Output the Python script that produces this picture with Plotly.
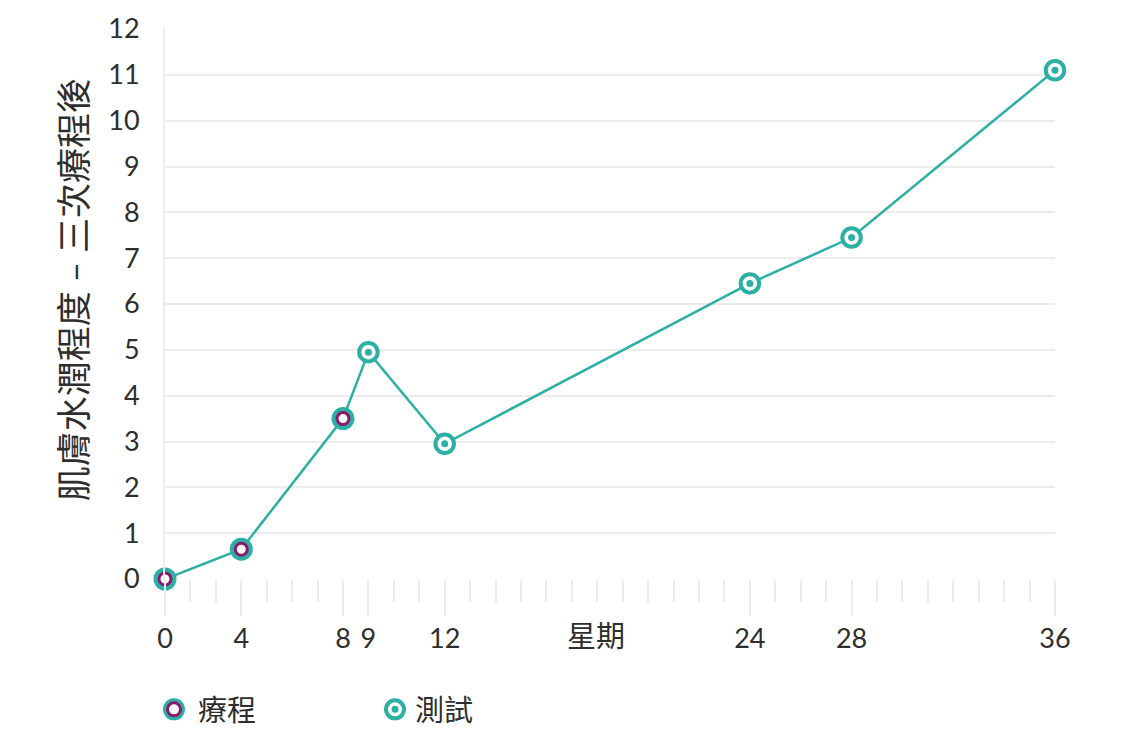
import plotly.graph_objects as go

# weeks since start and skin hydration score
weeks = [0, 4, 8, 9, 12, 24, 28, 36]
hydration = [0, 0.65, 3.5, 4.95, 2.95, 6.45, 7.45, 11.1]
kind = ["療程", "療程", "療程", "測試", "測試", "測試", "測試", "測試"]

tick_weeks = [0, 4, 8, 9, 12, 24, 28, 36]
y_ticks = list(range(0, 13))

TEAL = "#2bb0a3"
PURPLE = "#8c1a6c"
GRID = "#ececec"
TEXT = "#2e2e2e"
FONT = "Lato, Noto Sans CJK TC, sans-serif"

# the source chart draws week 0 in the week-1 slot of the axis
x_pos = [max(w, 1) for w in weeks]
tick_pos = [max(w, 1) for w in tick_weeks]

treat_x = [x for x, k in zip(x_pos, kind) if k == "療程"]
treat_y = [y for y, k in zip(hydration, kind) if k == "療程"]
test_x = [x for x, k in zip(x_pos, kind) if k == "測試"]
test_y = [y for y, k in zip(hydration, kind) if k == "測試"]

fig = go.Figure()

fig.add_trace(go.Scatter(
    x=x_pos, y=hydration, mode="lines",
    line=dict(color=TEAL, width=2.5), showlegend=False, hoverinfo="skip",
    cliponaxis=False,
))

# treatment markers: teal ring / purple ring / white centre
fig.add_trace(go.Scatter(
    x=treat_x, y=treat_y, mode="markers", showlegend=False, cliponaxis=False,
    marker=dict(size=23, color=TEAL, line=dict(width=0)),
))
fig.add_trace(go.Scatter(
    x=treat_x, y=treat_y, mode="markers", name="療程", showlegend=False, cliponaxis=False,
    marker=dict(size=12, color="white", line=dict(width=3, color=PURPLE)),
))

# test markers: teal ring / white gap / teal dot
fig.add_trace(go.Scatter(
    x=test_x, y=test_y, mode="markers", name="測試", showlegend=False, cliponaxis=False,
    marker=dict(size=18.5, color="white", line=dict(width=4, color=TEAL)),
))
fig.add_trace(go.Scatter(
    x=test_x, y=test_y, mode="markers", showlegend=False, cliponaxis=False,
    marker=dict(size=7, color=TEAL, line=dict(width=0)),
))

# hand-drawn legend (pixel sized symbols)
leg_y = -0.237
legend_shapes = [
    dict(type="circle", xref="paper", yref="paper", xsizemode="pixel", ysizemode="pixel",
         xanchor=0.0101, yanchor=leg_y, x0=-11, x1=11, y0=-11, y1=11,
         fillcolor=TEAL, line=dict(width=0)),
    dict(type="circle", xref="paper", yref="paper", xsizemode="pixel", ysizemode="pixel",
         xanchor=0.0101, yanchor=leg_y, x0=-6.5, x1=6.5, y0=-6.5, y1=6.5,
         fillcolor="white", line=dict(width=3, color=PURPLE)),
    dict(type="circle", xref="paper", yref="paper", xsizemode="pixel", ysizemode="pixel",
         xanchor=0.2584, yanchor=leg_y, x0=-9, x1=9, y0=-9, y1=9,
         fillcolor="white", line=dict(width=4, color=TEAL)),
    dict(type="circle", xref="paper", yref="paper", xsizemode="pixel", ysizemode="pixel",
         xanchor=0.2584, yanchor=leg_y, x0=-3.5, x1=3.5, y0=-3.5, y1=3.5,
         fillcolor=TEAL, line=dict(width=0)),
]

annotations = [
    dict(text="療程", xref="paper", yref="paper", x=0.0348, y=leg_y,
         xanchor="left", yanchor="middle", showarrow=False,
         font=dict(size=29, color=TEXT, family=FONT)),
    dict(text="測試", xref="paper", yref="paper", x=0.2787, y=leg_y,
         xanchor="left", yanchor="middle", showarrow=False,
         font=dict(size=29, color=TEXT, family=FONT)),
    dict(text="星期", xref="paper", yref="paper", x=0.484, y=-0.103,
         xanchor="center", yanchor="middle", showarrow=False,
         font=dict(size=29, color=TEXT, family=FONT)),
    dict(text="肌膚水潤程度 – 三次療程後", xref="paper", yref="paper", x=-0.104, y=0.526,
         xanchor="center", yanchor="middle", showarrow=False, textangle=-90,
         font=dict(size=35, color=TEXT, family=FONT)),
]

fig.update_layout(
    width=1128, height=739,
    margin=dict(l=157, r=81, t=21, b=168),
    paper_bgcolor="white", plot_bgcolor="white",
    shapes=legend_shapes, annotations=annotations,
    showlegend=False,
)

fig.update_xaxes(
    range=[1, 36], tickvals=tick_pos, ticktext=[str(w) for w in tick_weeks],
    showgrid=False, zeroline=False, showline=False, automargin=False,
    ticks="outside", ticklen=36, tickwidth=2, tickcolor=GRID,
    minor=dict(ticks="outside", ticklen=22, tickwidth=2, tickcolor=GRID,
               tick0=0, dtick=1, showgrid=False),
    tickfont=dict(size=27, color=TEXT, family=FONT),
)
fig.update_yaxes(
    range=[0, 12], tickvals=y_ticks, automargin=False,
    showgrid=True, gridcolor=GRID, gridwidth=2,
    zeroline=False, showline=True, linecolor=GRID, linewidth=2,
    ticks="", ticklabelstandoff=18,
    tickfont=dict(size=27, color=TEXT, family=FONT),
)

fig.write_html("out.html")
